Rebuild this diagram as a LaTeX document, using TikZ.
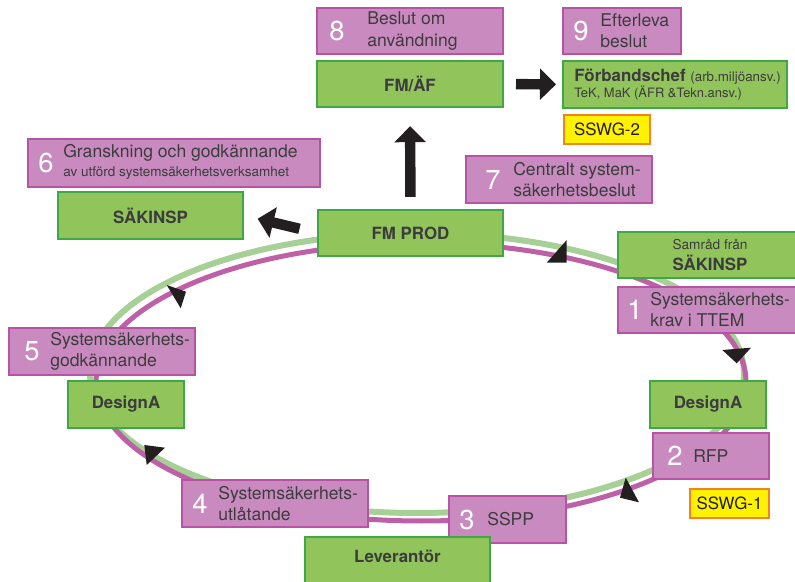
\documentclass[tikz,border=0pt]{standalone}
\usepackage{fontspec}
\setmainfont{TeX Gyre Heros}
\usetikzlibrary{arrows.meta, positioning}
\definecolor{boxpurple}{RGB}{201, 139, 191}
\definecolor{edgepurple}{RGB}{184, 82, 164}
\definecolor{boxgreen}{RGB}{146, 196, 92}
\definecolor{edgegreen}{RGB}{63, 168, 70}
\definecolor{ringgreen}{RGB}{166, 208, 150}
\definecolor{ringpurple}{RGB}{190, 96, 168}
\definecolor{warnyellow}{RGB}{255, 242, 0}
\definecolor{warnorange}{RGB}{245, 130, 32}
\definecolor{inkgray}{RGB}{60, 60, 62}
\definecolor{headblack}{RGB}{35, 31, 32}

\begin{document}
\begin{tikzpicture}[x=0.025cm, y=-0.025cm,
  stage/.style={draw=edgepurple, fill=boxpurple, line width=1.4pt, inner sep=0pt, minimum height=1.16cm},
  unit/.style={draw=edgegreen, fill=boxgreen, line width=1.4pt, inner sep=0pt, minimum height=1.16cm,
    text=inkgray, font=\fontsize{12}{14.5}\selectfont\bfseries},
  flag/.style={draw=warnorange, fill=warnyellow, line width=1.4pt, inner sep=0pt, minimum height=0.72cm,
    text=headblack, font=\fontsize{12}{14}\selectfont},
  num/.style={text=white, inner sep=0pt, font=\fontsize{19.5}{20}\selectfont},
  stagetext/.style={anchor=west, align=left, inner sep=0pt, text=inkgray, font=\fontsize{12.5}{15}\selectfont},
  push/.style={headblack, line width=0.26cm, -{Triangle[length=0.4cm, width=0.76cm]}},
  ringhead/.style={fill=headblack}]

  \useasboundingbox (0,0) rectangle (795,582);

  % The ring (green track, purple track)
  \draw[ringgreen, line width=0.15cm] (417,373) ellipse [x radius=327, y radius=140];
  \draw[ringpurple, line width=0.125cm] (421,382) ellipse [x radius=325, y radius=139];

  % Arrow heads on the ring
  \fill[ringhead] (566.7,240) -- (546.7,262.7) -- (566.7,262.7) -- cycle;
  \fill[ringhead] (722.3,350) -- (751,347.7) -- (736.7,363.3) -- cycle;
  \fill[ringhead] (625.7,477.7) -- (620,497.7) -- (639,502.3) -- cycle;
  \fill[ringhead] (144.3,445) -- (165,447.7) -- (146.7,465) -- cycle;
  \fill[ringhead] (166.7,285) -- (186,291.7) -- (180.7,308.3) -- cycle;

  % Top: decision and follow-up
  \node[stage, minimum width=4.65cm] (s8) at (410,31) {};
  \node[num] (n8) at (337,31) {8};
  \node[stagetext] (t8) at (367,31) {Beslut om\\användning};
  \node[unit, minimum width=4.65cm] (fmaf) at (410,84) {FM/ÄF};

  \node[stage, minimum width=2.95cm] (s9) at (622,31) {};
  \node[num] (n9) at (581,31) {9};
  \node[stagetext] (t9) at (600,31) {Efterleva\\beslut};
  \node[unit, minimum width=5.6cm, minimum height=1.175cm] (forb) at (675,84.5) {};
  \node[stagetext, font=\fontsize{12}{11.6}\selectfont\bfseries] (forbtext) at (574,84.5)
    {Förbandschef {\fontsize{9.5}{11}\selectfont\mdseries(arb.miljöansv.)}\\
     {\fontsize{9.2}{11.6}\selectfont\mdseries TeK, MaK (ÄFR \&Tekn.ansv.)}};
  \node[flag, minimum width=2.15cm] (sswg2) at (607,129.5) {SSWG-2};

  % Review and central decision
  \node[stage, minimum width=7.3cm, minimum height=1.2cm] (s6) at (174,163) {};
  \node[num] (n6) at (46,163) {6};
  \node[stagetext] (t6) at (63,162) {Granskning och godkännande\\[-2pt]
    {\fontsize{9.6}{11}\selectfont av utförd systemsäkerhetsverksamhet}};
  \node[unit, minimum width=4.625cm, minimum height=1.175cm] (sakinsp) at (150.5,215.5) {SÄKINSP};

  \node[stage, minimum width=4.65cm, minimum height=1.175cm] (s7) at (559,179.5) {};
  \node[num] (n7) at (493,179.5) {7};
  \node[stagetext] (t7) at (513,179.5) {Centralt system-\\säkerhetsbeslut};
  \node[unit, minimum width=4.625cm] (fmprod) at (410.5,233) {FM PROD};

  % Right side of the ring
  \node[unit, minimum width=4.6cm, align=center] (samrad) at (710,255)
    {{\fontsize{9.7}{11}\selectfont\mdseries Samråd från}\\[1pt]SÄKINSP};
  \node[stage, minimum width=4.6cm] (s1) at (710,310) {};
  \node[num] (n1) at (635,310) {1};
  \node[stagetext] (t1) at (650,310) {Systemsäkerhets-\\krav i TTEM};

  \node[unit, minimum width=2.9cm, minimum height=1.175cm] (designr) at (708,404.5) {DesignA};
  \node[stage, minimum width=2.9cm] (s2) at (711,456) {};
  \node[num] (n2) at (675,456) {2};
  \node[stagetext] (t2) at (693,456) {RFP};
  \node[flag, minimum width=1.975cm] (sswg1) at (729.5,503.5) {SSWG-1};

  % Bottom of the ring
  \node[stage, minimum width=2.925cm, minimum height=1.175cm] (s3) at (507.5,519.5) {};
  \node[num] (n3) at (467,519.5) {3};
  \node[stagetext] (t3) at (487,519.5) {SSPP};
  \node[unit, minimum width=4.625cm, minimum height=1.325cm, text depth=0.35cm] (lev) at (397.5,563.5) {Leverantör};

  \node[stage, minimum width=4.65cm, minimum height=1.175cm] (s4) at (275,503.5) {};
  \node[num] (n4) at (200,503.5) {4};
  \node[stagetext] (t4) at (218,503.5) {Systemsäkerhets-\\utlåtande};

  % Left side of the ring
  \node[stage, minimum width=4.65cm, minimum height=1.175cm] (s5) at (102,351.5) {};
  \node[num] (n5) at (32,351.5) {5};
  \node[stagetext] (t5) at (50,351.5) {Systemsäkerhets-\\godkännande};
  \node[unit, minimum width=2.9cm, minimum height=1.175cm] (designl) at (126,404.5) {DesignA};

  % Block arrows
  \draw[push, shorten <=0.3cm, shorten >=0.15cm] (fmaf.east) -- (forb.west);
  \draw[push, shorten <=0.3cm, shorten >=0.45cm] (fmprod.north) -- (fmaf.south);
  \draw[push, shorten <=0.45cm, shorten >=0.35cm] (fmprod.west) -- (sakinsp.east);
\end{tikzpicture}
\end{document}
